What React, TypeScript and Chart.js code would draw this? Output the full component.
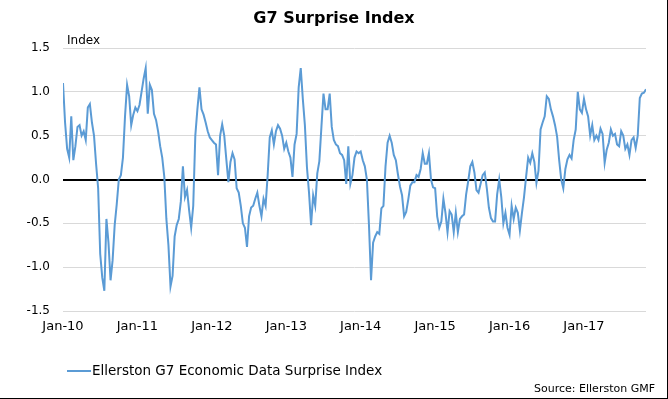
import React, { useEffect, useRef } from "react";
import { Chart, registerables } from "chart.js";

Chart.register(...registerables);

// Category (year) starts and their tick labels
const tickYears = [2010, 2011, 2012, 2013, 2014, 2015, 2016, 2017];
const xTickLabels = ["Jan-10", "Jan-11", "Jan-12", "Jan-13", "Jan-14", "Jan-15", "Jan-16", "Jan-17"];
const yTickValues = [-1.5, -1.0, -0.5, 0.0, 0.5, 1.0, 1.5];

// Readings: 36 samples per year (roughly every 10 days)
const v2010 = [1.10, 0.65, 0.35, 0.25, 0.72, 0.22, 0.38, 0.60, 0.62, 0.50, 0.55, 0.45, 0.82, 0.86, 0.65, 0.50, 0.18, -0.10, -0.85, -1.12, -1.27, -0.45, -0.72, -1.15, -0.92, -0.52, -0.28, 0.00, 0.05, 0.25, 0.72, 1.08, 0.95, 0.62, 0.74, 0.82];
const v2011 = [0.78, 0.85, 1.00, 1.15, 1.27, 0.75, 1.08, 1.02, 0.75, 0.68, 0.55, 0.38, 0.25, 0.03, -0.45, -0.75, -1.22, -1.10, -0.65, -0.52, -0.45, -0.25, 0.15, -0.20, -0.12, -0.35, -0.55, -0.30, 0.50, 0.80, 1.05, 0.80, 0.74, 0.65, 0.55, 0.48];
const v2012 = [0.45, 0.42, 0.40, 0.05, 0.50, 0.63, 0.50, 0.23, -0.03, 0.20, 0.30, 0.23, -0.10, -0.15, -0.30, -0.50, -0.55, -0.77, -0.42, -0.32, -0.30, -0.22, -0.15, -0.30, -0.42, -0.22, -0.30, 0.05, 0.48, 0.56, 0.40, 0.55, 0.62, 0.58, 0.50, 0.35];
const v2013 = [0.42, 0.32, 0.25, 0.03, 0.40, 0.52, 1.05, 1.27, 0.92, 0.62, 0.14, -0.15, -0.52, -0.18, -0.30, 0.07, 0.21, 0.60, 0.98, 0.80, 0.80, 0.98, 0.60, 0.45, 0.40, 0.38, 0.30, 0.28, 0.22, -0.05, 0.38, -0.05, 0.05, 0.25, 0.32, 0.30];
const v2014 = [0.32, 0.22, 0.15, 0.00, -0.52, -1.15, -0.72, -0.65, -0.60, -0.62, -0.33, -0.30, 0.15, 0.42, 0.50, 0.42, 0.28, 0.22, 0.06, -0.08, -0.18, -0.42, -0.37, -0.23, -0.07, -0.03, -0.03, 0.05, 0.03, 0.12, 0.30, 0.18, 0.18, 0.30, 0.00, -0.09];
const v2015 = [-0.10, -0.42, -0.55, -0.48, -0.22, -0.38, -0.60, -0.36, -0.40, -0.60, -0.38, -0.60, -0.45, -0.42, -0.40, -0.17, -0.02, 0.15, 0.20, 0.08, -0.12, -0.15, -0.05, 0.05, 0.08, -0.10, -0.32, -0.44, -0.48, -0.48, -0.17, 0.00, -0.20, -0.50, -0.38, -0.55];
const v2016 = [-0.63, -0.30, -0.45, -0.32, -0.38, -0.58, -0.38, -0.20, 0.03, 0.25, 0.19, 0.30, 0.20, -0.04, 0.10, 0.57, 0.65, 0.72, 0.95, 0.92, 0.80, 0.72, 0.62, 0.49, 0.22, 0.00, -0.10, 0.12, 0.23, 0.28, 0.24, 0.45, 0.57, 1.00, 0.80, 0.76];
const v2017 = [0.92, 0.80, 0.72, 0.50, 0.62, 0.45, 0.50, 0.45, 0.58, 0.52, 0.19, 0.34, 0.42, 0.57, 0.50, 0.52, 0.40, 0.38, 0.55, 0.50, 0.35, 0.40, 0.28, 0.45, 0.48, 0.36, 0.50, 0.93, 0.98, 0.99, 1.03];

const samplesPerYear = 36;
const seriesByYear = [v2010, v2011, v2012, v2013, v2014, v2015, v2016, v2017];
const seriesName = "Ellerston G7 Economic Data Surprise Index";
const lineColor = "#5B9BD5";
const FONT = "'DejaVu Sans', Verdana, sans-serif";

export default function App() {
  const canvasRef = useRef<HTMLCanvasElement | null>(null);

  useEffect(() => {
    document.body.style.margin = "0";
    const points: { x: number; y: number }[] = [];
    seriesByYear.forEach((vals, yi) => {
      vals.forEach((v, k) => {
        points.push({ x: tickYears[yi] + k / samplesPerYear, y: v });
      });
    });
    const xMax = points[points.length - 1].x;

    const chart = new Chart(canvasRef.current!, {
      type: "line",
      data: {
        datasets: [
          {
            label: seriesName,
            data: points,
            borderColor: lineColor,
            borderWidth: 2,
            pointRadius: 0,
            tension: 0,
            fill: false,
          },
        ],
      },
      options: {
        animation: false,
        responsive: false,
        maintainAspectRatio: false,
        layout: { padding: { left: 0, right: 22, top: 48, bottom: 0 } },
        plugins: { legend: { display: false }, title: { display: false }, tooltip: { enabled: false } },
        scales: {
          x: {
            type: "linear",
            min: tickYears[0],
            max: xMax,
            grid: { display: false, drawTicks: false },
            border: { display: false },
            afterBuildTicks: (s: any) => {
              s.ticks = tickYears.map((v) => ({ value: v }));
            },
            afterFit: (s: any) => {
              s.height = 88;
            },
            ticks: {
              autoSkip: false,
              maxRotation: 0,
              padding: 8,
              color: "#000",
              font: { family: FONT, size: 13 },
              callback: (v: any) => {
                const i = tickYears.indexOf(Number(v));
                return i >= 0 ? xTickLabels[i] : "";
              },
            },
          },
          y: {
            min: -1.5,
            max: 1.5,
            afterBuildTicks: (s: any) => {
              s.ticks = yTickValues.map((v) => ({ value: v }));
            },
            afterFit: (s: any) => {
              s.width = 63;
            },
            grid: {
              drawTicks: false,
              color: (c: any) => (c.tick && c.tick.value === 0 ? "#000000" : "#D9D9D9"),
              lineWidth: (c: any) => (c.tick && c.tick.value === 0 ? 2 : 1),
            },
            border: { display: false },
            ticks: {
              padding: 13,
              color: "#000",
              font: { family: FONT, size: 12 },
              callback: (v: any) => Number(v).toFixed(1),
            },
          },
        },
      },
    });
    return () => chart.destroy();
  }, []);

  return (
    <div
      style={{
        position: "relative",
        width: 668,
        height: 399,
        background: "#fff",
        fontFamily: FONT,
        color: "#000",
        boxSizing: "border-box",
        overflow: "hidden",
      }}
    >
      <canvas ref={canvasRef} width={668} height={399} style={{ position: "absolute", left: 0, top: 0 }} />
      <div
        style={{
          position: "absolute",
          left: 0,
          top: 7,
          width: 668,
          textAlign: "center",
          fontWeight: "bold",
          fontSize: 16,
          lineHeight: "22px",
        }}
      >
        G7 Surprise Index
      </div>
      <div style={{ position: "absolute", left: 67, top: 32, fontSize: 12, lineHeight: "16px" }}>Index</div>
      <div
        style={{
          position: "absolute",
          left: 67,
          top: 370,
          width: 24,
          height: 2,
          background: lineColor,
        }}
      />
      <div style={{ position: "absolute", left: 92, top: 362, fontSize: 13.5, lineHeight: "17px" }}>{seriesName}</div>
      <div
        style={{
          position: "absolute",
          right: 13,
          top: 382,
          fontSize: 11,
          lineHeight: "14px",
          textAlign: "right",
        }}
      >
        Source: Ellerston GMF
      </div>
      <div style={{ position: "absolute", right: 0, top: 0, width: 1, height: 399, background: "#000" }} />
      <div style={{ position: "absolute", left: 0, bottom: 0, width: 668, height: 1, background: "#000" }} />
    </div>
  );
}
